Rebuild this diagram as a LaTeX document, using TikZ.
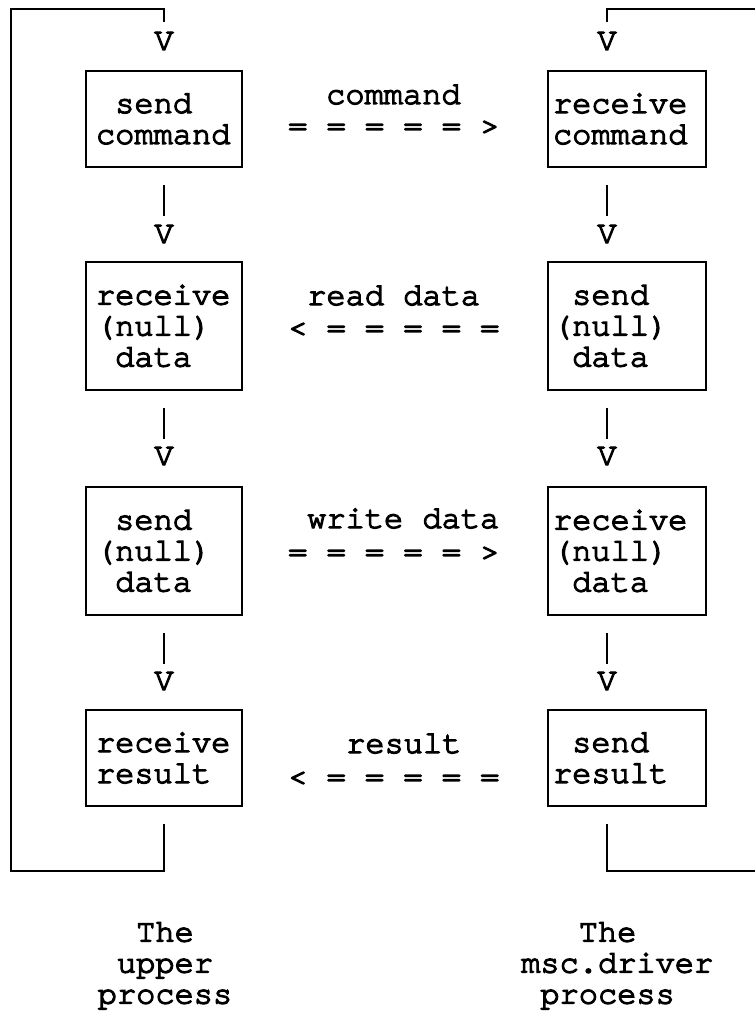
\documentclass[tikz,border=0pt]{standalone}
\usepackage{fontspec}
\setmainfont{TeX Gyre Cursor}[FakeBold=4, WordSpace={1,0,0}]
\begin{document}
\begin{tikzpicture}[x=1pt,y=-1pt,
  every node/.style={font=\fontsize{32}{31}\selectfont, inner sep=0pt},
  box/.style={draw, line width=1.6pt, align=left, inner ysep=0pt},
  lbox/.style={box, text width=136pt, inner xsep=10pt},
  rbox/.style={box, text width=148pt, inner xsep=5pt},
  short/.style={minimum height=96pt},
  tall/.style={minimum height=128pt},
  ln/.style={line width=1.6pt},
  msg/.style={anchor=base west}]
\useasboundingbox (0,0) rectangle (755,1019);

% boxes, left column (upper process)
\node[lbox, short] (L1) at (164,119) {\hphantom{x}send\\command};
\node[lbox, tall]  (L2) at (164,326) {receive\\(null)\\\hphantom{x}data};
\node[lbox, tall]  (L3) at (164,551) {\hphantom{x}send\\(null)\\\hphantom{x}data};
\node[lbox, short] (L4) at (164,758) {receive\\result};

% boxes, right column (msc.driver process)
\node[rbox, short] (R1) at (627,119) {receive\\command};
\node[rbox, tall]  (R2) at (627,326) {\hphantom{x}send\\(null)\\\hphantom{x}data};
\node[rbox, tall]  (R3) at (627,551) {receive\\(null)\\\hphantom{x}data};
\node[rbox, short] (R4) at (627,758) {\hphantom{x}send\\result};

% V heads
\node[anchor=base] (LV1) at (164,50) {V};
\node[anchor=base] (LV2) at (164,243) {V};
\node[anchor=base] (LV3) at (164,465) {V};
\node[anchor=base] (LV4) at (164,690) {V};
\node[anchor=base] (RV1) at (607,50) {V};
\node[anchor=base] (RV2) at (607,243) {V};
\node[anchor=base] (RV3) at (607,465) {V};
\node[anchor=base] (RV4) at (607,690) {V};

% vertical strokes between boxes
\foreach \a/\b in {L1/LV2,L2/LV3,L3/LV4}{
  \draw[ln] ([yshift=-17pt]\a.south -| \b) -- ([yshift=-48pt]\a.south -| \b);
}
\foreach \a/\b in {R1/RV2,R2/RV3,R3/RV4}{
  \draw[ln] ([yshift=-17pt]\a.south -| \b) -- ([yshift=-48pt]\a.south -| \b);
}

% loops
\coordinate (LT) at (164,9);
\coordinate (LB) at (164,871);
\coordinate (LE) at (11,0);
\draw[ln] ([yshift=-17pt]L4.south -| LV4) -- (LB) -- (LB -| LE) -- (LT -| LE) -- (LT) -- ([yshift=-13pt]LT);
\coordinate (RT) at (607,9);
\coordinate (RB) at (607,871);
\coordinate (RE) at (755,0);
\draw[ln] ([yshift=-17pt]R4.south -| RV4) -- (RB) -- (RB -| RE);
\draw[ln] ([yshift=-13pt]RT) -- (RT) -- (RT -| RE);

% messages
\node[msg] (m1) at (326,104) {command};
\node[msg] (a1) at (288,135) {= = = = = >};
\node[msg] (m2) at (307,305) {read data};
\node[msg] (a2) at (288,337) {< = = = = =};
\node[msg] (m3) at (307,528) {write data};
\node[msg] (a3) at (288,561) {= = = = = >};
\node[msg] (m4) at (346,753) {result};
\node[msg] (a4) at (288,786) {< = = = = =};

% captions
\node[align=center, anchor=north] (capL) at (165,922) {The\\upper\\process};
\node[align=left, anchor=north west] (capR) at (521,922) {\hphantom{xxx}The\\msc.driver\\\hphantom{x}process};
\end{tikzpicture}
\end{document}
